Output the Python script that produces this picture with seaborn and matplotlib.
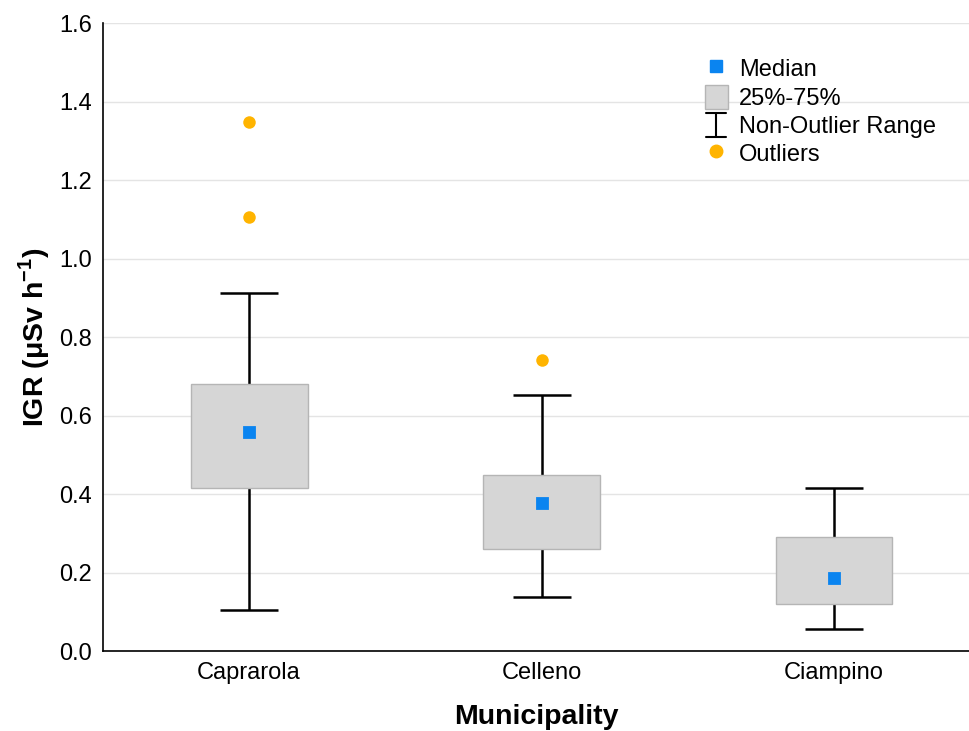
import numpy as np
import pandas as pd
import matplotlib
matplotlib.use("Agg")
import matplotlib.pyplot as plt
from matplotlib.lines import Line2D
from matplotlib.patches import Patch
from matplotlib.legend_handler import HandlerBase
import seaborn as sns

# IGR summary statistics
municipalities = ["Caprarola", "Celleno", "Ciampino"]
medians = [0.559, 0.377, 0.186]
q1 = [0.416, 0.260, 0.120]
q3 = [0.680, 0.448, 0.290]
whisker_low = [0.104, 0.137, 0.056]
whisker_high = [0.914, 0.654, 0.416]
outlier_sites = ["Caprarola", "Caprarola", "Celleno"]
outlier_values = [1.348, 1.106, 0.741]

BLUE = "#0a84f0"
ORANGE = "#ffb400"
BOX = "#d6d6d6"


class RangeHandler(HandlerBase):
    """Draws an I-shaped whisker symbol in the legend."""
    def create_artists(self, legend, orig_handle, xdescent, ydescent,
                       width, height, fontsize, trans):
        cx = width / 2 - xdescent
        half = width * 0.42
        y0, y1 = -ydescent, height - ydescent
        kw = dict(color="black", linewidth=1.5, transform=trans)
        return [Line2D([cx, cx], [y0, y1], **kw),
                Line2D([cx - half, cx + half], [y0, y0], **kw),
                Line2D([cx - half, cx + half], [y1, y1], **kw)]


sns.set_style("white")
plt.rcParams["font.family"] = ["Liberation Sans", "DejaVu Sans"]
plt.rcParams["text.color"] = "black"
plt.rcParams["axes.labelcolor"] = "black"
plt.rcParams["mathtext.fontset"] = "custom"
plt.rcParams["mathtext.rm"] = "Liberation Sans:bold"
plt.rcParams["mathtext.bf"] = "Liberation Sans:bold"

fig = plt.figure(figsize=(9.7, 7.31), dpi=100)
ax = fig.add_axes([0.106, 0.1094, 0.894, 0.8585])

df = pd.DataFrame({"site": municipalities, "iqr": np.array(q3) - np.array(q1)})
sns.barplot(data=df, x="site", y="iqr", order=municipalities, bottom=q1,
            width=0.4, color=BOX, edgecolor="#b5b5b5", linewidth=1,
            saturation=1, errorbar=None, ax=ax, zorder=2)

# whiskers (non-outlier range) drawn behind the boxes
pos = np.arange(len(municipalities))
lo = np.array(medians) - np.array(whisker_low)
hi = np.array(whisker_high) - np.array(medians)
ax.errorbar(pos, medians, yerr=[lo, hi], fmt="none", ecolor="black",
            elinewidth=1.8, capsize=21, capthick=1.8, zorder=1)

sns.pointplot(x=municipalities, y=medians, order=municipalities, linestyle="none",
              markers="s", color=BLUE, markersize=7.5, errorbar=None, ax=ax, zorder=4)
sns.stripplot(x=outlier_sites, y=outlier_values, order=municipalities, jitter=False,
              color=ORANGE, size=9, linewidth=0, ax=ax, zorder=4)

ax.set_xlim(-0.5, 2.465)
ax.set_ylim(0, 1.6)
ax.set_yticks(np.arange(0, 1.61, 0.2))
ax.set_yticklabels([f"{v:.1f}" for v in np.arange(0, 1.61, 0.2)])
ax.yaxis.grid(True, color="#e4e4e4", linewidth=1)
ax.set_axisbelow(True)
for s in ["top", "right"]:
    ax.spines[s].set_visible(False)
for s in ["left", "bottom"]:
    ax.spines[s].set_color("black")
    ax.spines[s].set_linewidth(1.2)
ax.tick_params(direction="in", length=5, width=1, colors="black", labelsize=17, pad=8)
ax.set_xlabel("Municipality", fontsize=20.5, fontweight="bold", labelpad=14)
ax.set_ylabel(r"IGR ($\mathregular{\mu}$Sv h$^{\mathregular{-1}}$)", fontsize=20.5,
              fontweight="bold", labelpad=5)

range_handle = object()
handles = [
    Line2D([], [], marker="s", linestyle="none", color=BLUE, markersize=8),
    Patch(facecolor=BOX, edgecolor="#b5b5b5"),
    range_handle,
    Line2D([], [], marker="o", linestyle="none", color=ORANGE, markersize=9),
]
labels = ["Median", "25%-75%", "Non-Outlier Range", "Outliers"]
ax.legend(handles, labels, loc="upper left", bbox_to_anchor=(0.683, 0.963), frameon=False,
          fontsize=17, numpoints=1, handlelength=1.0, handleheight=1.2,
          handletextpad=0.45, labelspacing=0.14, borderaxespad=0,
          handler_map={range_handle: RangeHandler()})

fig.savefig("out.png", dpi=100)
